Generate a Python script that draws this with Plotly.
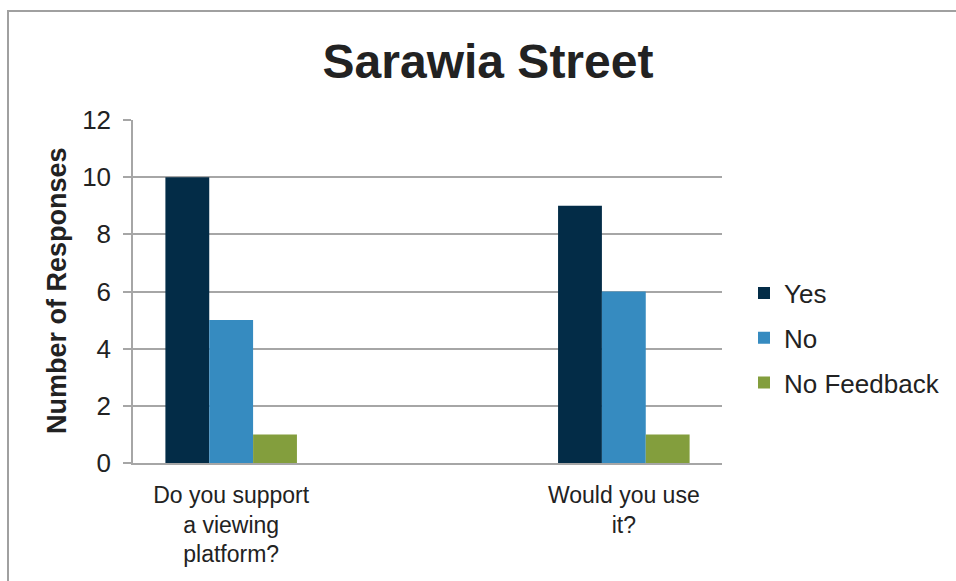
import plotly.graph_objects as go

# Survey responses for Sarawia Street
categories = ["Do you support<br>a viewing<br>platform?", " ", "Would you use<br>it?"]
series_names = ["Yes", "No", "No Feedback"]
yes_values = [10, None, 9]
no_values = [5, None, 6]
no_feedback_values = [1, None, 1]
y_ticks = [0, 2, 4, 6, 8, 10, 12]

colors = {"Yes": "#032c47", "No": "#368bc0", "No Feedback": "#839e3d"}
values = {"Yes": yes_values, "No": no_values, "No Feedback": no_feedback_values}

W, H = 956, 581
L, R, T, B = 133, 722, 120, 463  # plot-area pixel edges

fig = go.Figure()
for name in series_names:
    fig.add_trace(go.Bar(
        name=name, x=categories, y=values[name],
        marker=dict(color=colors[name], line=dict(width=0)),
        legendgroup=name,
    ))

def px_x(p):
    return (p - L) / (R - L)

def px_y(p):
    return (B - p) / (B - T)

font = "Liberation Sans, Arial, sans-serif"
grid = "#a6a6a6"

fig.update_layout(
    width=W, height=H,
    margin=dict(l=L, r=W - R, t=T, b=H - B, pad=0, autoexpand=False),
    paper_bgcolor="white", plot_bgcolor="white",
    barmode="group", bargap=0.33, bargroupgap=0,
    font=dict(family=font, color="#222222"),
    title=dict(text="<b>Sarawia Street</b>", font=dict(size=48, color="#222222", family=font),
               x=488 / W, xref="container", xanchor="center",
               y=1 - 61 / H, yref="container", yanchor="middle"),
    legend=dict(x=px_x(744), xanchor="left", y=px_y(338), yanchor="middle",
                font=dict(size=26, family=font, color="#222222"),
                tracegroupgap=8, traceorder="grouped", bgcolor="rgba(0,0,0,0)"),
    xaxis=dict(showline=True, linecolor=grid, linewidth=2, ticks="",
               tickfont=dict(size=23, family=font, color="#222222"),
               ticklabelstandoff=10, showgrid=False, automargin=False),
    yaxis=dict(range=[0, 12], tickvals=y_ticks, showgrid=True, gridcolor=grid, gridwidth=1.5,
               showline=True, linecolor=grid, linewidth=1.5, ticks="outside", ticklen=8,
               tickcolor=grid, tickwidth=1.5, ticklabelstandoff=7, automargin=False,
               tickfont=dict(size=26, family=font, color="#222222"), zeroline=False),
    annotations=[dict(text="<b>Number of Responses</b>", textangle=-90,
                      x=px_x(57), y=px_y(291), xref="paper", yref="paper",
                      xanchor="center", yanchor="middle",
                      showarrow=False, font=dict(size=27, family=font, color="#222222"))],
    shapes=[dict(type="rect", xref="paper", yref="paper",
                 x0=px_x(8), x1=px_x(W + 20), y0=px_y(H + 20), y1=px_y(11),
                 line=dict(color="#a0a0a0", width=2), fillcolor="rgba(0,0,0,0)", layer="below")],
)

fig.write_html("out.html")
